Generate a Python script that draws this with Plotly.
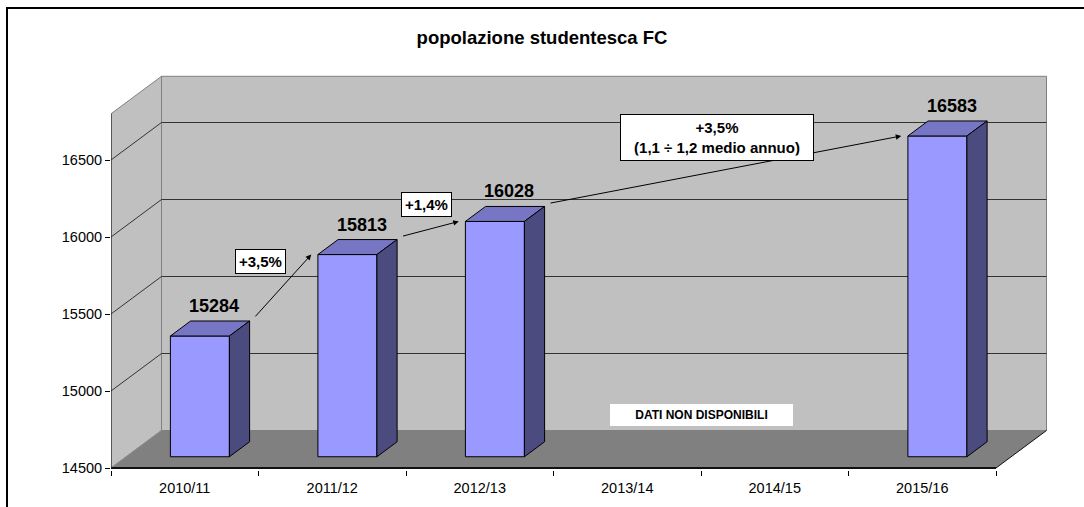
import plotly.graph_objects as go

# ---------------- data ----------------
categories = ["2010/11", "2011/12", "2012/13", "2013/14", "2014/15", "2015/16"]
students = [15284, 15813, 16028, None, None, 16583]
y_ticks = [14500, 15000, 15500, 16000, 16500]
growth_from = [0, 1, 2]
growth_to = [1, 2, 5]
growth_text = ["+3,5%", "+1,4%", "+3,5%<br>(1,1 ÷ 1,2 medio annuo)"]
missing_text = "DATI NON DISPONIBILI"
title_text = "popolazione studentesca FC"

# ---------------- layout constants ----------------
W, H = 1084, 507
L, R, T, B = 111, 1052, 70, 470
PX_CAT = 147.5          # px per category
PX_VAL = 0.154          # px per value unit
Y_BASE = 14500
Y_WALL_TOP = 16800
ZERO_PX = 468           # pixel row of Y_BASE
DX = 50.5 / PX_CAT      # depth offset in category units
DY = 37.5 / PX_VAL      # depth offset in value units
BAR_W = 0.4
BAR_FRONT, BAR_BACK = 0.3, 0.7

x0r = -0.5
x1r = x0r + (R - L) / PX_CAT
y0r = Y_BASE - (B - ZERO_PX) / PX_VAL
y1r = Y_BASE + (ZERO_PX - T) / PX_VAL
n = len(categories)
xl, xr = -0.5, n - 0.5

FONT = "Liberation Sans, Arial, sans-serif"
WALL = "#C0C0C0"
FLOOR = "#808080"
EDGE = "#808080"
FRONT = "#9999FF"
TOP = "#7676C4"
SIDE = "#4B4B7F"

fig = go.Figure()


def poly(xs, ys, fill, line_color=None, width=1):
    fig.add_trace(go.Scatter(
        x=list(xs) + [xs[0]], y=list(ys) + [ys[0]], mode="lines", fill="toself",
        fillcolor=fill,
        line=dict(color=line_color if line_color else fill, width=width if line_color else 0),
        hoverinfo="skip", showlegend=False))


def line(xs, ys, color, width=1, dash=None):
    fig.add_trace(go.Scatter(x=xs, y=ys, mode="lines",
                             line=dict(color=color, width=width, dash=dash),
                             hoverinfo="skip", showlegend=False))


# walls
poly([xl, xl + DX, xl + DX, xl], [Y_BASE, Y_BASE + DY, Y_WALL_TOP + DY, Y_WALL_TOP], WALL, EDGE)
poly([xl + DX, xr + DX, xr + DX, xl + DX],
     [Y_BASE + DY, Y_BASE + DY, Y_WALL_TOP + DY, Y_WALL_TOP + DY], WALL, EDGE)
# floor
poly([xl, xr, xr + DX, xl + DX], [Y_BASE, Y_BASE, Y_BASE + DY, Y_BASE + DY], FLOOR)
line([xl, xl + DX], [Y_BASE, Y_BASE + DY], "#8a8a8a")
line([xr, xr + DX], [Y_BASE, Y_BASE + DY], "#111111")
# gridlines
for g in y_ticks[1:]:
    line([xl, xl + DX, xr + DX], [g, g + DY, g + DY], "#333333", 1)
# axis lines
line([xl, xl], [Y_BASE, Y_WALL_TOP], "#111111", 1)
line([xl, xr], [Y_BASE, Y_BASE], "#111111", 2)

# bars
bar_geo = {}
for i, v in enumerate(students):
    if v is None:
        continue
    fx0 = i - BAR_W / 2 + BAR_FRONT * DX
    fx1 = i + BAR_W / 2 + BAR_FRONT * DX
    fy0 = Y_BASE + BAR_FRONT * DY
    fy1 = v + BAR_FRONT * DY
    ddx = (BAR_BACK - BAR_FRONT) * DX
    ddy = (BAR_BACK - BAR_FRONT) * DY
    poly([fx0, fx1, fx1, fx0], [fy0, fy0, fy1, fy1], FRONT, "#000000", 1)
    poly([fx0, fx1, fx1 + ddx, fx0 + ddx], [fy1, fy1, fy1 + ddy, fy1 + ddy], TOP, "#000000", 1)
    poly([fx1, fx1 + ddx, fx1 + ddx, fx1], [fy0, fy0 + ddy, fy1 + ddy, fy1], SIDE, "#000000", 1)
    bar_geo[i] = dict(fx0=fx0, fx1=fx1, fy1=fy1, bx1=fx1 + ddx, by1=fy1 + ddy)
    fig.add_annotation(x=i + 0.5 * DX, y=v + BAR_BACK * DY, text=f"{v}", showarrow=False,
                       xref="x", yref="y", yanchor="bottom", xshift=4, yshift=3,
                       font=dict(family=FONT, size=18, color="#000000", weight="bold"))

# growth arrows
label_shift = [(-22, 25), (-4, 24), (-8, 32)]
label_pad = [3, 3, 4]
label_width = [None, None, 184]
for k, (a, b, txt) in enumerate(zip(growth_from, growth_to, growth_text)):
    ga, gb = bar_geo[a], bar_geo[b]
    tx, ty = ga["bx1"] + 0.03, ga["by1"] + 20
    hx, hy = gb["fx0"] - 0.045, gb["fy1"]
    fig.add_annotation(x=hx, y=hy, ax=tx, ay=ty, xref="x", yref="y", axref="x", ayref="y",
                       text="", showarrow=True, arrowhead=2, arrowsize=1.1, arrowwidth=1,
                       arrowcolor="#000000", standoff=0, startstandoff=0)
    fig.add_annotation(x=(hx + tx) / 2, y=(hy + ty) / 2, xref="x", yref="y", text=txt,
                       showarrow=False, xshift=label_shift[k][0], yshift=label_shift[k][1],
                       bgcolor="#FFFFFF", bordercolor="#000000", borderwidth=1,
                       borderpad=label_pad[k], width=label_width[k],
                       font=dict(family=FONT, size=15, color="#000000", weight="bold"))

# missing-data note
fig.add_annotation(x=3.5, y=14846, xref="x", yref="y", text=missing_text, showarrow=False,
                   bgcolor="#FFFFFF", borderwidth=0, borderpad=4, width=175,
                   font=dict(family=FONT, size=12, color="#000000", weight="bold"))

# outer border
pw, ph = R - L, B - T
fig.add_shape(type="rect", xref="paper", yref="paper",
              x0=(7 - L) / pw, x1=(1095 - L) / pw, y0=(B - 520) / ph, y1=(B - 8) / ph,
              line=dict(color="#000000", width=2), fillcolor="rgba(0,0,0,0)", layer="above")

fig.update_layout(
    width=W, height=H, autosize=False,
    margin=dict(l=L, r=W - R, t=T, b=H - B, pad=0, autoexpand=False),
    paper_bgcolor="#FFFFFF", plot_bgcolor="rgba(0,0,0,0)",
    title=dict(text=title_text, x=0.5, xanchor="center", xref="container", y=1 - 38 / H,
               yanchor="middle", automargin=False,
               font=dict(family=FONT, size=18.5, color="#000000", weight="bold")),
    showlegend=False,
    xaxis=dict(range=[x0r, x1r], tickmode="array", tickvals=list(range(n)), ticktext=categories,
               ticks="outside", ticklen=5, tickcolor="rgba(0,0,0,0)", showgrid=False,
               zeroline=False, showline=False, fixedrange=True, automargin=False,
               tickfont=dict(family=FONT, size=14.5, color="#000000"),
               minor=dict(tickmode="array", tickvals=[i - 0.5 for i in range(n + 1)],
                          ticks="outside", ticklen=5, tickcolor="#000000", tickwidth=1,
                          showgrid=False)),
    yaxis=dict(range=[y0r, y1r], tickmode="array", tickvals=y_ticks,
               ticktext=[str(t) for t in y_ticks], ticks="outside", ticklen=5,
               tickcolor="#000000", showgrid=False, zeroline=False, showline=False,
               fixedrange=True, automargin=False,
               tickfont=dict(family=FONT, size=14.5, color="#000000")),
)

fig.write_html("out.html", config={"displayModeBar": False},
               post_script="document.body.style.margin='0';document.body.style.overflow='hidden';")
